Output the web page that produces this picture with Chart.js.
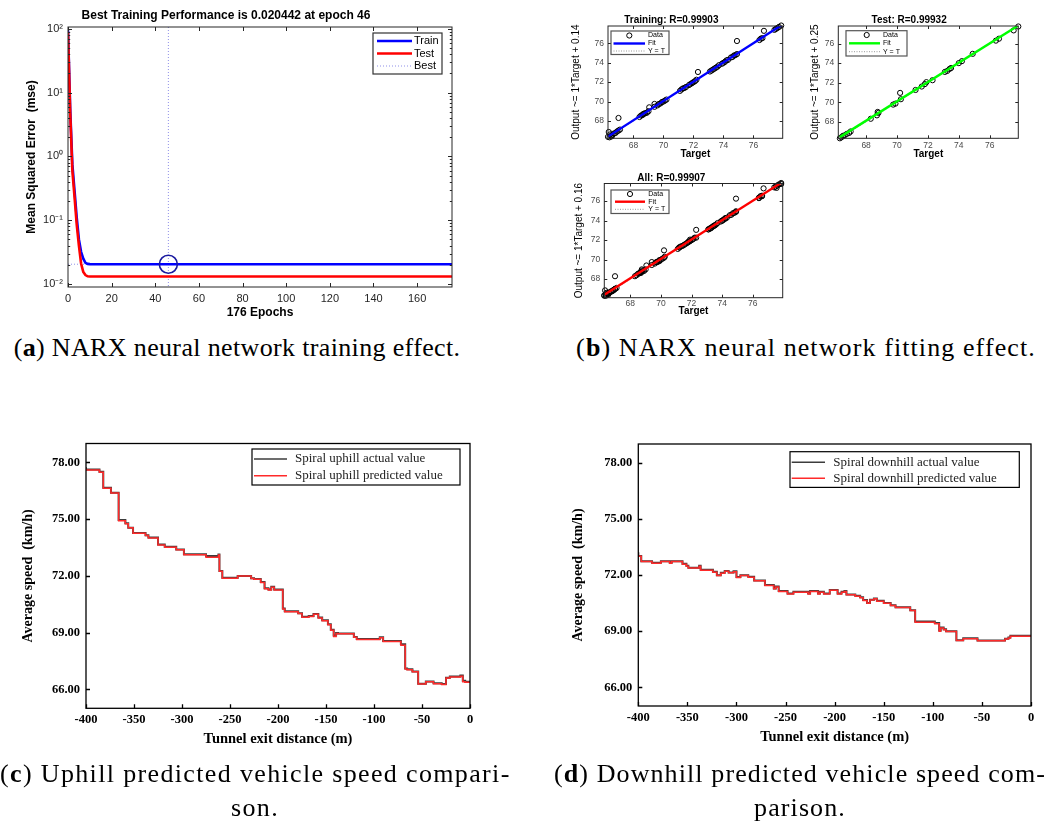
<!DOCTYPE html>
<html>
<head>
<meta charset="utf-8">
<script src="https://cdn.jsdelivr.net/npm/chart.js@4.4.0/dist/chart.umd.min.js"></script>
<style>
  body { margin: 0; background: #fff; width: 1061px; height: 825px; position: relative; overflow: hidden; }
  canvas { position: absolute; }
  .cap { position: absolute; font-family: "Liberation Serif", "Times New Roman", serif; font-size: 26px; letter-spacing: 0.7px; line-height: 34px; color: #000; text-align: center; white-space: nowrap; }
</style>
</head>
<body>
<canvas id="perf" width="470" height="325" style="left:0;top:0"></canvas>
<canvas id="regTrain" width="240" height="165" style="left:560px;top:0"></canvas>
<canvas id="regTest" width="261" height="165" style="left:800px;top:0"></canvas>
<canvas id="regAll" width="240" height="155" style="left:560px;top:165px"></canvas>
<canvas id="uphill" width="480" height="330" style="left:0;top:430px"></canvas>
<canvas id="downhill" width="501" height="330" style="left:560px;top:430px"></canvas>

<div class="cap" style="left:0;top:331px;width:474px;letter-spacing:0.35px">(<b>a</b>) NARX neural network training effect.</div>
<div class="cap" style="left:556px;top:331px;width:500px;letter-spacing:1.1px">(<b>b</b>) NARX neural network fitting effect.</div>
<div class="cap" style="left:0;top:757px;width:510px;letter-spacing:1.35px">(<b>c</b>) Uphill predicted vehicle speed compari-<br>son.</div>
<div class="cap" style="left:545px;top:757px;width:510px;letter-spacing:1.1px">(<b>d</b>) Downhill predicted vehicle speed com-<br>parison.</div>

<script>
const SANS = '"Liberation Sans", Arial, sans-serif';
const NARROW = '"Liberation Sans Narrow", "Liberation Sans", sans-serif';
const SERIF = '"Liberation Serif", "Times New Roman", serif';

// (a) training performance
const epochs    = [0, 1, 2, 3, 4, 5, 6, 7, 8, 9, 10, 12, 15, 20, 46, 100, 176];
const trainMse  = [95, 5.6, 0.75, 0.29, 0.11, 0.05, 0.032, 0.025, 0.0215, 0.0207, 0.0205, 0.02046, 0.02045, 0.02044, 0.020442, 0.02044, 0.02044];
const testMse   = [90, 5.0, 0.6, 0.23, 0.085, 0.04, 0.021, 0.0155, 0.0138, 0.0132, 0.0131, 0.0131, 0.0131, 0.0131, 0.0131, 0.0131, 0.0131];
const bestEpoch = [46];
const bestPerf  = [0.020442];
const epochTicks = [0, 20, 40, 60, 80, 100, 120, 140, 160];
const perfTicks  = [0.01, 0.1, 1, 10, 100];

// (b) regression: targets / outputs
const trainT = [66.30,66.40,66.45,66.50,66.55,66.60,66.70,66.80,66.90,67.00,67.10,66.35,67.00,
  68.40,68.50,68.60,68.65,68.70,68.80,68.90,69.00,69.05,
  69.40,69.40,69.60,69.70,69.80,69.90,70.00,70.10,70.20,
  71.10,71.20,71.30,71.40,71.50,
  71.70,71.80,71.90,72.00,72.10,72.20,72.30,
  73.10,73.20,73.30,73.40,73.50,73.60,73.70,
  73.90,74.00,74.10,74.20,74.30,
  74.50,74.60,74.70,74.80,74.90,74.90,
  76.40,76.50,76.60,76.70,
  77.40,77.50,77.60,77.70,77.85];
const trainO = [66.35,66.30,66.60,66.45,66.40,66.55,66.70,66.75,66.90,67.00,67.10,66.85,68.30,
  68.40,68.55,68.60,68.70,68.75,68.80,68.85,69.00,69.40,
  69.45,69.75,69.60,69.75,69.80,69.95,70.00,70.10,70.20,
  71.10,71.25,71.35,71.40,71.50,
  71.70,71.80,71.90,72.00,72.10,72.25,73.05,
  73.10,73.20,73.30,73.40,73.50,73.60,73.75,
  73.90,74.00,74.10,74.25,74.30,
  74.55,74.60,74.75,74.80,74.90,76.25,
  76.35,76.50,76.55,77.30,
  77.40,77.50,77.60,77.70,77.85];
const testT = [66.30,66.40,66.50,66.60,66.75,66.90,67.00, 68.30,68.70,68.80,68.75, 69.75,69.90,70.25,70.20,
  71.20,71.60,71.80,71.90,72.30, 73.10,73.25,73.40,73.50, 74.00,74.20, 74.90, 76.40,76.60, 77.55,77.85];
const testO = [66.30,66.40,66.55,66.60,66.75,66.85,67.00, 68.30,68.65,68.90,69.00, 69.75,69.85,70.30,70.95,
  71.25,71.60,71.85,72.05,72.25, 73.10,73.20,73.40,73.50, 74.00,74.20, 74.95, 76.30,76.50, 77.35,77.75];
const fitT      = [66.3, 77.9];
const trainFitO = [66.38, 77.92];
const testFitO  = [66.42, 77.90];
const allFitO   = [66.40, 77.92];
const regTicks  = [68, 70, 72, 74, 76];

// (c) uphill
const upX = [-400,-386,-382,-374,-366,-359,-356,-351,-338,-335,-325,-318,-306,-298,-275,-262,-261,-258,-242,-228,
  -225,-218,-214,-210,-207,-204,-195,-193,-179,-175,-168,-163,-158,-154,-148,-145,-142,-139.5,-137.5,-121,
  -118,-94,-90.5,-72,-67.5,-65.5,-60,-54,-46,-38,-29.5,-25,-21,-10,-7.5,-5,0];
const upPred = [77.68,77.60,77.48,76.63,76.38,74.92,74.76,74.54,74.25,74.13,74.01,73.64,73.52,73.38,73.12,72.99,73.11,72.24,71.88,71.99,
  71.86,71.82,71.65,71.32,71.26,71.40,71.26,70.25,70.11,70.01,69.82,69.86,69.97,69.78,69.63,69.42,69.12,68.80,68.96,68.94,
  68.75,68.64,68.73,68.53,68.34,67.08,67.04,66.93,66.28,66.40,66.30,66.26,66.60,66.66,66.70,66.40,66.38];
const upAct = [77.75,77.62,77.50,76.66,76.40,74.95,74.78,74.55,74.27,74.15,74.03,73.66,73.54,73.40,73.14,73.05,73.13,72.26,71.90,72.00,
  71.88,71.84,71.68,71.35,71.28,71.42,71.28,70.27,70.13,70.03,69.84,69.88,69.99,69.80,69.66,69.45,69.15,68.85,68.98,68.96,
  68.77,68.66,68.75,68.56,68.38,67.10,67.06,66.95,66.30,66.42,66.33,66.28,66.62,66.68,66.74,66.45,66.40];

// (d) downhill
const downX = [-400,-397,-386,-377,-368,-366,-355,-351,-349,-338,-336.5,-324,-320,-316,-312,-308,-303,-300,-296,-288,
  -282,-271,-262,-260,-257,-248,-242,-227,-225,-217,-215,-211,-205,-197,-193,-190,-188,-179,-174,-171,
  -167,-164,-160,-157,-150,-143,-138,-123,-118,-98,-93.5,-92,-89,-86.5,-76,-69,-54.5,-26.5,-23,-21,-19.5,0];
const downPred = [73.19,73.00,72.72,72.63,72.72,72.63,72.72,72.58,72.47,72.37,72.47,72.26,72.15,71.97,72.10,72.20,72.12,72.18,71.87,71.97,
  71.88,71.69,71.44,71.26,71.36,71.12,70.99,71.08,70.99,71.12,70.99,71.08,70.99,71.18,70.99,71.08,71.12,70.94,70.87,70.79,
  70.64,70.49,70.66,70.73,70.60,70.49,70.37,70.26,70.10,69.48,69.40,69.00,69.17,69.08,68.98,68.50,68.60,68.48,68.58,68.64,68.73,68.73];
const downAct = [73.22,73.02,72.74,72.65,72.74,72.65,72.74,72.60,72.49,72.39,72.49,72.28,72.17,71.99,72.12,72.22,72.14,72.20,71.89,71.99,
  71.90,71.71,71.46,71.28,71.38,71.14,71.01,71.10,71.01,71.14,71.01,71.10,71.01,71.20,71.01,71.10,71.14,70.96,70.89,70.81,
  70.66,70.51,70.68,70.75,70.62,70.51,70.39,70.28,70.12,69.52,69.43,69.03,69.19,69.10,69.00,68.52,68.62,68.50,68.60,68.66,68.75,68.75];
const speedTicks = [66, 69, 72, 75, 78];
const distTicks  = [-400, -350, -300, -250, -200, -150, -100, -50, 0];

// helpers
const pts = (xs, ys) => xs.map((x, i) => ({ x: x, y: ys[i] }));
const setTicks = list => scale => { scale.ticks = list.map(v => ({ value: v })); };
const fixW = w => scale => { scale.width = w; };
const fixH = h => scale => { scale.height = h; };
const noGrid = { display: false, drawTicks: false };
const SUP = { '-': '\u207B', '0': '\u2070', '1': '\u00B9', '2': '\u00B2' };
const pow10 = v => '10' + String(Math.round(Math.log10(v))).split('').map(c => SUP[c]).join('');

// box + inward tick marks
const framePlugin = {
  id: 'frame',
  afterDatasetsDraw(chart, args, o) {
    if (!o.show) return;
    const { ctx, chartArea: a, scales } = chart;
    const len = o.tick;
    ctx.save();
    ctx.strokeStyle = o.color;
    ctx.lineWidth = o.width;
    ctx.beginPath();
    scales.x.ticks.forEach(t => {
      const px = Math.round(scales.x.getPixelForValue(t.value)) + 0.5;
      ctx.moveTo(px, a.bottom); ctx.lineTo(px, a.bottom - len);
      if (o.mirror) { ctx.moveTo(px, a.top); ctx.lineTo(px, a.top + len); }
    });
    const ys = scales.y.ticks.map(t => ({ v: t.value, l: len })).concat((o.minor || []).map(v => ({ v: v, l: len * 0.55 })));
    ys.forEach(t => {
      const py = Math.round(scales.y.getPixelForValue(t.v)) + 0.5;
      ctx.moveTo(a.left, py); ctx.lineTo(a.left + t.l, py);
      if (o.mirror) { ctx.moveTo(a.right, py); ctx.lineTo(a.right - t.l, py); }
    });
    ctx.stroke();
    ctx.strokeRect(a.left, a.top, a.right - a.left, a.bottom - a.top);
    ctx.restore();
  }
};

// legend box drawn inside the plot
const boxPlugin = {
  id: 'box',
  afterDraw(chart, args, o) {
    if (!o.rect) return;
    const ctx = chart.ctx;
    const [bx, by, bw, bh] = o.rect;
    ctx.save();
    ctx.fillStyle = '#fff';
    ctx.fillRect(bx, by, bw, bh);
    ctx.strokeStyle = o.border;
    ctx.lineWidth = o.borderWidth;
    ctx.strokeRect(bx, by, bw, bh);
    ctx.font = o.font;
    ctx.textBaseline = 'middle';
    o.rows.forEach(r => {
      ctx.beginPath();
      ctx.strokeStyle = r.color;
      ctx.lineWidth = r.width;
      ctx.setLineDash(r.dash || []);
      if (r.marker) ctx.arc(o.markerX, r.y, o.markerR, 0, Math.PI * 2);
      else { ctx.moveTo(o.lineX[0], r.y); ctx.lineTo(o.lineX[1], r.y); }
      ctx.stroke();
      ctx.setLineDash([]);
      ctx.fillStyle = o.textColor;
      ctx.fillText(r.text, o.textX, r.y);
    });
    ctx.restore();
  }
};

// dotted "best" guide lines
const bestPlugin = {
  id: 'best',
  beforeDatasetsDraw(chart, args, o) {
    if (!o.show) return;
    const { ctx, chartArea: a, scales } = chart;
    const px = scales.x.getPixelForValue(bestEpoch[0]);
    const py = scales.y.getPixelForValue(bestPerf[0]);
    ctx.save();
    ctx.strokeStyle = o.color;
    ctx.lineWidth = 1;
    ctx.setLineDash([1, 2]);
    ctx.beginPath();
    ctx.moveTo(px, a.top); ctx.lineTo(px, a.bottom);
    ctx.moveTo(a.left, py); ctx.lineTo(a.right, py);
    ctx.stroke();
    ctx.restore();
  }
};

Chart.register(framePlugin, boxPlugin, bestPlugin);
Chart.defaults.animation = false;
Chart.defaults.responsive = false;
Chart.defaults.font.family = SANS;
Chart.defaults.color = '#262626';
Chart.defaults.plugins.legend.display = false;
Chart.defaults.plugins.tooltip.enabled = false;

// ---------- (a) ----------
const minorLog = [];
[0.01, 0.1, 1, 10].forEach(d => { for (let k = 2; k <= 9; k++) minorLog.push(k * d); });

new Chart(document.getElementById('perf'), {
  type: 'line',
  data: {
    datasets: [
      { label: 'Best', data: pts(bestEpoch, bestPerf), showLine: false, pointRadius: 9, pointStyle: 'circle',
        borderColor: '#1a1aa0', borderWidth: 1.6, backgroundColor: 'rgba(0,0,0,0)', order: 0 },
      { label: 'Test', data: pts(epochs, testMse), borderColor: '#ff0000', borderWidth: 2.6, pointRadius: 0, order: 1 },
      { label: 'Train', data: pts(epochs, trainMse), borderColor: '#0000ff', borderWidth: 2.6, pointRadius: 0, order: 2 }
    ]
  },
  options: {
    layout: { padding: { right: 18 } },
    scales: {
      x: {
        type: 'linear', min: 0, max: 176,
        afterFit: fixH(38), afterBuildTicks: setTicks(epochTicks),
        grid: noGrid, border: { display: false },
        ticks: { padding: 5, font: { size: 11 }, maxRotation: 0 },
        title: { display: true, text: '176 Epochs', color: '#000', font: { size: 12, weight: 'bold' }, padding: { top: 0, bottom: 5 } }
      },
      y: {
        type: 'logarithmic', min: 0.00898, max: 107,
        afterFit: fixW(68), afterBuildTicks: setTicks(perfTicks),
        grid: noGrid, border: { display: false },
        ticks: { padding: 5, font: { size: 11 }, callback: v => pow10(v) },
        title: { display: true, text: 'Mean Squared Error  (mse)', color: '#000', font: { size: 12, weight: 'bold' }, padding: { top: 24, bottom: 0 } }
      }
    },
    plugins: {
      title: { display: true, text: 'Best Training Performance is 0.020442 at epoch 46', color: '#000',
        font: { size: 12, weight: 'bold' }, padding: { top: 8.8, bottom: 3.8 } },
      frame: { show: true, color: '#262626', width: 1, tick: 4, mirror: true, minor: minorLog },
      best: { show: true, color: '#8f8fe8' },
      box: {
        rect: [373, 33, 69, 41], border: '#333', borderWidth: 1.2, font: '11px ' + SANS, textColor: '#000',
        lineX: [377, 412], textX: 414,
        rows: [
          { y: 41, color: '#0000ff', width: 2.6, text: 'Train' },
          { y: 53.5, color: '#ff0000', width: 2.6, text: 'Test' },
          { y: 66, color: '#8f8fe8', width: 1, dash: [1, 2], text: 'Best' }
        ]
      }
    }
  }
});

// ---------- (b) ----------
function regChart(id, cfg) {
  return new Chart(document.getElementById(id), {
    type: 'scatter',
    data: {
      datasets: [
        { label: 'Fit', data: pts(fitT, cfg.fitO), showLine: true, borderColor: cfg.color, borderWidth: 2.4, pointRadius: 0, order: 0 },
        { label: 'Y = T', data: pts(fitT, fitT), showLine: true, borderColor: '#999', borderWidth: 1, borderDash: [1, 2], pointRadius: 0, order: 1 },
        { label: 'Data', data: pts(cfg.t, cfg.o), pointStyle: 'circle', pointRadius: 2.6, borderColor: '#000', borderWidth: 1,
          backgroundColor: 'rgba(0,0,0,0)', clip: false, order: 2 }
      ]
    },
    options: {
      layout: { padding: { right: cfg.right } },
      scales: {
        x: {
          type: 'linear', min: cfg.xr[0], max: cfg.xr[1],
          afterFit: fixH(cfg.xh), afterBuildTicks: setTicks(regTicks),
          grid: noGrid, border: { display: false },
          ticks: { padding: cfg.xpad, font: { size: 8.5 }, color: '#4a4a4a', maxRotation: 0 },
          title: { display: true, text: 'Target', color: '#000', font: { size: 10, weight: 'bold', lineHeight: 1.2 }, padding: { top: 0, bottom: cfg.xtb } }
        },
        y: {
          type: 'linear', min: cfg.yr[0], max: cfg.yr[1],
          afterFit: fixW(cfg.yw), afterBuildTicks: setTicks(regTicks),
          grid: noGrid, border: { display: false },
          ticks: { padding: 4, font: { size: 8.5 }, color: '#4a4a4a' },
          title: { display: true, text: cfg.ylabel, color: '#000', font: { family: NARROW, size: 10, lineHeight: 1.2 }, padding: { top: cfg.ytp, bottom: 0 } }
        }
      },
      plugins: {
        title: { display: true, text: cfg.title, color: '#000', font: { size: 10, weight: 'bold', lineHeight: cfg.tlh }, padding: { top: cfg.ttop, bottom: 0 } },
        frame: { show: true, color: '#262626', width: 1, tick: 3, mirror: true },
        box: {
          rect: cfg.box, border: '#555', borderWidth: 1.2, font: '7px ' + SANS, textColor: '#000',
          lineX: cfg.lineX, textX: cfg.textX, markerX: cfg.markerX, markerR: 2.6,
          rows: [
            { y: cfg.rows[0], color: '#000', width: 1, marker: true, text: 'Data' },
            { y: cfg.rows[1], color: cfg.color, width: 2.4, text: 'Fit' },
            { y: cfg.rows[2], color: '#999', width: 1, dash: [1, 1.5], text: 'Y = T' }
          ]
        }
      }
    }
  });
}

regChart('regTrain', {
  t: trainT, o: trainO, fitO: trainFitO, color: '#0000ff', title: 'Training: R=0.99903', ylabel: 'Output ~= 1*Target + 0.14',
  xr: [66.3, 77.95], yr: [66.2, 77.8], right: 17.3, xh: 26.7, yw: 48, xpad: 2, xtb: 5, ytp: 10.7, ttop: 14, tlh: 1.2,
  box: [51, 31, 58, 23.5], rows: [35.5, 43.5, 51], lineX: [53.5, 85], textX: 88, markerX: 69.3
});
regChart('regTest', {
  t: testT, o: testO, fitO: testFitO, color: '#00ff00', title: 'Test: R=0.99932', ylabel: 'Output ~= 1*Target + 0.25',
  xr: [66.2, 77.85], yr: [66.3, 77.8], right: 42.7, xh: 26.7, yw: 38.3, xpad: 2, xtb: 5, ytp: 9, ttop: 14, tlh: 1.2,
  box: [46, 30.7, 61, 25.3], rows: [35, 43.3, 51.7], lineX: [49, 80], textX: 83, markerX: 66.7
});
regChart('regAll', {
  t: trainT.concat(testT), o: trainO.concat(testO), fitO: allFitO, color: '#ff0000', title: 'All: R=0.99907', ylabel: 'Output ~= 1*Target + 0.16',
  xr: [66.3, 77.95], yr: [66.1, 77.8], right: 17.3, xh: 22.3, yw: 44.3, xpad: 1, xtb: 2.3, ytp: 13.3, ttop: 8.5, tlh: 1,
  box: [51, 25, 58, 23.5], rows: [29, 36.7, 44.3], lineX: [55, 85], textX: 88.3, markerX: 70
});

// ---------- (c) and (d) ----------
function speedChart(id, cfg) {
  return new Chart(document.getElementById(id), {
    type: 'line',
    data: {
      datasets: [
        { label: cfg.names[1], data: pts(cfg.x, cfg.pred), stepped: 'after', borderColor: '#ff2a2a', borderWidth: 1.5, pointRadius: 0, order: 0 },
        { label: cfg.names[0], data: pts(cfg.x, cfg.act), stepped: 'after', borderColor: '#3c3c3c', borderWidth: 2, pointRadius: 0, order: 1 }
      ]
    },
    options: {
      layout: { padding: { top: cfg.top, right: cfg.right } },
      scales: {
        x: {
          type: 'linear', min: -400, max: 0,
          afterFit: fixH(cfg.xh), afterBuildTicks: setTicks(distTicks),
          grid: noGrid, border: { display: false },
          ticks: { padding: 4, color: '#000', font: { family: SERIF, size: 12.5, weight: 'bold' }, maxRotation: 0 },
          title: { display: true, text: 'Tunnel exit distance (m)', color: '#000', font: { family: SERIF, size: 14.5, weight: 'bold' }, padding: { top: 0, bottom: cfg.xtb } }
        },
        y: {
          type: 'linear', min: 65, max: 79,
          afterFit: fixW(cfg.yw), afterBuildTicks: setTicks(speedTicks),
          grid: noGrid, border: { display: false },
          ticks: { padding: 6, color: '#000', font: { family: SERIF, size: 12.5, weight: 'bold' }, callback: v => v.toFixed(2) },
          title: { display: true, text: 'Average speed  (km/h)', color: '#000', font: { family: SERIF, size: 14, weight: 'bold' }, padding: { top: cfg.ytp, bottom: 0 } }
        }
      },
      plugins: {
        frame: { show: true, color: '#000', width: 1.3, tick: 4, mirror: false },
        box: {
          rect: cfg.box, border: '#000', borderWidth: 1.2, font: '13px ' + SERIF, textColor: '#222',
          lineX: cfg.lineX, textX: cfg.textX,
          rows: [
            { y: cfg.rows[0], color: '#3c3c3c', width: 1.4, text: cfg.names[0] },
            { y: cfg.rows[1], color: '#ff2a2a', width: 1.4, text: cfg.names[1] }
          ]
        }
      }
    }
  });
}

speedChart('uphill', {
  x: upX, pred: upPred, act: upAct, names: ['Spiral uphill actual value', 'Spiral uphill predicted value'],
  top: 12.7, right: 10, xh: 51.7, yw: 86, xtb: 11.6, ytp: 19.6,
  box: [252, 19, 208, 36], rows: [29, 45.7], lineX: [254, 287], textX: 295
});
speedChart('downhill', {
  x: downX, pred: downPred, act: downAct, names: ['Spiral downhill actual value', 'Spiral downhill predicted value'],
  top: 14, right: 30, xh: 54, yw: 78.3, xtb: 13.6, ytp: 9.9,
  box: [230, 21.7, 229.3, 35.7], rows: [32.3, 48.3], lineX: [231.7, 265], textX: 273.3
});
</script>
</body>
</html>
